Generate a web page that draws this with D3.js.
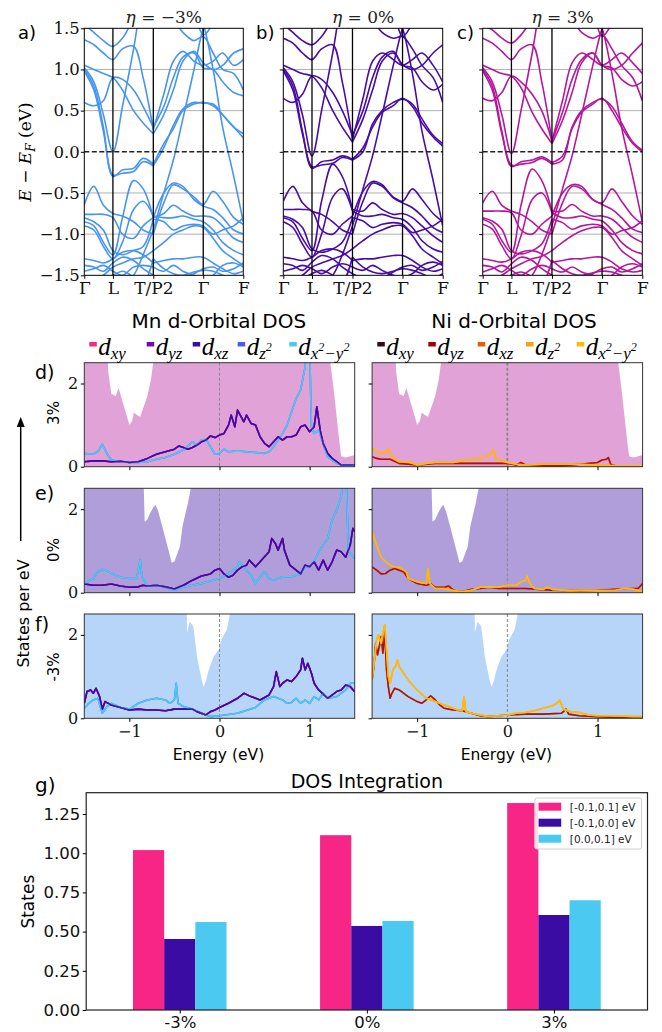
<!DOCTYPE html>
<html>
<head>
<meta charset="utf-8">
<script src="https://cdn.jsdelivr.net/npm/d3@7"></script>
<style>body{margin:0;background:#fff}</style>
</head>
<body>
<script>
// ---------- band structure data (fraction along k-path, E - E_F in eV) ----------
const kPts = [0, 0.06, 0.12, 0.18, 0.24, 0.31, 0.37, 0.434, 0.50, 0.56, 0.62, 0.69, 0.748, 0.81, 0.87, 0.94, 1.0];
const kTicks = [0, 0.18, 0.434, 0.748, 1.0];
const kLabels = ["Γ", "L", "T/P2", "Γ", "F"];

// eta = -3%
const bandsM3 = [
  [1.02, 0.85, 0.45, 0.0, 0.55, 1.25, 1.9, 2.2, 2.2, 2.1, 1.9, 1.7, 1.42, 1.55, 1.7, 1.8, 1.9],
  [1.0, 0.8, 0.3, -0.3, -0.22, -0.2, -0.08, -0.15, 0.1, 0.28, 0.5, 0.58, 0.6, 0.56, 0.45, 0.3, 0.22],
  [0.98, 0.75, 0.25, -0.28, -0.26, -0.24, -0.12, -0.17, 0.05, 0.32, 0.52, 0.6, 0.59, 0.58, 0.45, 0.3, 0.17],
  [0.6, 0.56, 0.62, 0.9, 0.88, 0.75, 0.55, 0.3, 0.55, 0.9, 1.15, 1.2, 1.02, 1.0, 0.85, 0.72, 0.68],
  [1.36, 1.3, 1.2, 1.12, 1.25, 1.28, 0.9, 0.27, 0.7, 1.1, 1.22, 1.1, 1.05, 1.1, 1.2, 1.05, 1.12],
  [1.05, 1.0, 0.95, 0.9, 0.75, 0.5, 0.35, 0.22, 0.45, 0.75, 1.1, 1.22, 1.08, 1.0, 1.05, 1.2, 1.25],
  [1.55, 1.45, 1.35, 1.28, 1.38, 1.6, 1.7, 1.8, 1.7, 1.6, 1.45, 1.35, 1.4, 1.2, 1.0, 0.95, 0.75],
  [-2.0, -1.9, -1.8, -1.7, -1.6, -1.5, -1.25, -0.95, -0.5, -0.1, 0.4, 1.0, 1.5, 1.8, 2.0, 2.0, 2.0],
  [2.0, 2.0, 2.0, 1.9, 1.8, 1.7, 1.75, 1.85, 1.9, 1.9, 1.85, 1.8, 1.55, 1.0, 0.3, -0.3, -0.85],
  [-0.64, -0.42, -0.65, -0.75, -0.78, -0.85, -0.95, -1.0, -0.62, -0.4, -0.45, -0.55, -0.64, -0.48, -0.6, -0.8, -0.88],
  [-0.76, -0.76, -0.76, -0.8, -1.0, -1.05, -0.9, -0.8, -0.5, -0.38, -0.42, -0.58, -0.66, -0.7, -0.8, -0.95, -1.0],
  [-0.85, -0.9, -1.1, -1.25, -0.8, -0.35, -0.45, -0.8, -0.75, -0.65, -0.72, -0.78, -0.78, -0.8, -0.9, -1.05, -1.1],
  [-0.9, -0.95, -1.15, -1.3, -1.1, -0.7, -0.6, -0.78, -0.8, -0.8, -0.78, -0.82, -0.85, -0.95, -1.1, -1.2, -1.25],
  [-0.8, -0.85, -0.95, -1.2, -1.25, -1.2, -1.15, -0.82, -0.85, -0.95, -0.9, -0.88, -0.9, -1.0, -0.95, -0.9, -0.8],
  [-1.3, -1.32, -1.35, -1.3, -1.22, -1.2, -1.25, -1.35, -1.32, -1.3, -1.3, -1.28, -1.28, -1.35, -1.42, -1.48, -1.45],
  [-1.45, -1.42, -1.38, -1.45, -1.5, -1.4, -1.38, -1.4, -1.45, -1.38, -1.45, -1.5, -1.55, -1.5, -1.38, -1.35, -1.4],
  [-1.6, -1.55, -1.5, -1.4, -1.35, -1.3, -1.28, -1.2, -1.1, -1.0, -0.95, -0.9, -0.92, -1.05, -1.2, -1.3, -1.38],
  [-1.38, -1.4, -1.45, -1.35, -1.28, -1.32, -1.42, -1.5, -1.55, -1.6, -1.55, -1.48, -1.42, -1.4, -1.45, -1.42, -1.35],
  [-1.7, -1.65, -1.55, -1.5, -1.45, -1.52, -1.6, -1.3, -1.42, -1.48, -1.5, -1.46, -1.44, -1.45, -1.5, -1.55, -1.5]
];

// eta = 0%
const bandsZero = [
  [1.02, 0.85, 0.45, -0.05, 0.5, 1.2, 1.85, 2.2, 2.2, 2.1, 1.9, 1.7, 1.4, 1.55, 1.7, 1.8, 1.9],
  [1.0, 0.8, 0.25, -0.2, -0.12, -0.1, -0.05, -0.09, 0.05, 0.3, 0.48, 0.56, 0.65, 0.55, 0.35, 0.18, 0.07],
  [0.98, 0.75, 0.22, -0.18, -0.16, -0.14, -0.07, -0.1, 0.0, 0.34, 0.5, 0.6, 0.64, 0.58, 0.4, 0.2, 0.1],
  [0.65, 0.6, 0.7, 0.92, 0.88, 0.72, 0.5, 0.2, 0.5, 0.9, 1.15, 1.22, 1.05, 1.02, 0.85, 0.75, 0.82],
  [1.38, 1.32, 1.2, 1.12, 1.25, 1.3, 0.85, 0.15, 0.65, 1.1, 1.2, 1.12, 1.05, 1.12, 1.2, 1.05, 0.85],
  [1.05, 1.0, 0.95, 0.92, 0.78, 0.5, 0.3, 0.12, 0.4, 0.75, 1.1, 1.2, 1.06, 1.0, 1.05, 1.2, 1.3],
  [1.55, 1.45, 1.35, 1.3, 1.4, 1.6, 1.7, 1.8, 1.7, 1.6, 1.45, 1.38, 1.4, 1.25, 1.05, 0.9, 0.6],
  [-2.0, -1.9, -1.8, -1.7, -1.6, -1.5, -1.25, -0.9, -0.45, -0.05, 0.45, 1.05, 1.5, 1.8, 2.0, 2.0, 2.0],
  [2.0, 2.0, 2.0, 1.9, 1.8, 1.7, 1.75, 1.85, 1.9, 1.9, 1.85, 1.75, 1.5, 0.95, 0.25, -0.35, -0.9],
  [-0.6, -0.42, -0.62, -0.72, -0.76, -0.85, -0.95, -1.0, -0.6, -0.38, -0.42, -0.55, -0.6, -0.45, -0.58, -0.75, -0.85],
  [-0.7, -0.7, -0.7, -0.72, -0.95, -1.0, -0.88, -0.78, -0.48, -0.36, -0.4, -0.56, -0.62, -0.68, -0.78, -0.92, -0.98],
  [-0.8, -0.85, -1.05, -1.2, -0.6, -0.15, -0.3, -0.7, -0.72, -0.62, -0.7, -0.76, -0.75, -0.8, -0.9, -1.02, -1.1],
  [-0.85, -0.92, -1.12, -1.28, -1.0, -0.55, -0.45, -0.72, -0.78, -0.78, -0.76, -0.8, -0.82, -0.92, -1.08, -1.18, -1.22],
  [-0.78, -0.82, -0.92, -1.18, -1.22, -1.18, -1.1, -0.8, -0.84, -0.92, -0.88, -0.86, -0.88, -0.98, -0.95, -0.9, -0.82],
  [-1.28, -1.3, -1.32, -1.28, -1.2, -1.18, -1.22, -1.32, -1.3, -1.3, -1.28, -1.26, -1.26, -1.32, -1.4, -1.45, -1.42],
  [-1.45, -1.42, -1.38, -1.42, -1.48, -1.4, -1.36, -1.4, -1.44, -1.38, -1.44, -1.5, -1.52, -1.48, -1.38, -1.34, -1.38],
  [-1.6, -1.55, -1.5, -1.4, -1.35, -1.3, -1.26, -1.18, -1.08, -1.0, -0.95, -0.9, -0.9, -1.02, -1.18, -1.28, -1.36],
  [-1.36, -1.38, -1.44, -1.34, -1.26, -1.3, -1.4, -1.48, -1.54, -1.58, -1.54, -1.46, -1.4, -1.38, -1.44, -1.4, -1.33],
  [-1.7, -1.64, -1.55, -1.48, -1.44, -1.5, -1.58, -1.28, -1.4, -1.46, -1.48, -1.45, -1.42, -1.44, -1.48, -1.53, -1.48]
];

// eta = 3%
const bandsP3 = [
  [1.02, 0.85, 0.45, -0.02, 0.5, 1.2, 1.85, 2.2, 2.2, 2.1, 1.9, 1.7, 1.4, 1.55, 1.7, 1.8, 1.9],
  [1.0, 0.8, 0.25, -0.18, -0.12, -0.1, -0.06, -0.13, -0.05, 0.28, 0.48, 0.58, 0.65, 0.5, 0.3, 0.1, 0.0],
  [0.98, 0.75, 0.22, -0.16, -0.15, -0.13, -0.08, -0.15, -0.1, 0.3, 0.5, 0.6, 0.64, 0.55, 0.35, 0.12, 0.02],
  [0.65, 0.62, 0.72, 0.92, 0.85, 0.7, 0.5, 0.13, 0.48, 0.88, 1.12, 1.2, 1.05, 1.02, 0.88, 0.8, 0.85],
  [1.38, 1.32, 1.22, 1.12, 1.25, 1.3, 0.85, 0.13, 0.62, 1.08, 1.2, 1.12, 1.05, 1.12, 1.2, 1.08, 0.95],
  [1.05, 1.0, 0.95, 0.92, 0.78, 0.48, 0.28, 0.1, 0.38, 0.72, 1.08, 1.2, 1.05, 1.0, 1.05, 1.2, 1.32],
  [1.55, 1.48, 1.38, 1.32, 1.42, 1.6, 1.7, 1.8, 1.7, 1.6, 1.45, 1.38, 1.42, 1.25, 1.05, 0.9, 0.62],
  [-2.0, -1.9, -1.8, -1.7, -1.6, -1.5, -1.25, -0.9, -0.45, -0.05, 0.45, 1.05, 1.5, 1.8, 2.0, 2.0, 2.0],
  [2.0, 2.0, 2.0, 1.9, 1.8, 1.7, 1.75, 1.85, 1.9, 1.9, 1.85, 1.75, 1.5, 0.95, 0.3, -0.3, -0.85],
  [-0.62, -0.48, -0.65, -0.72, -0.76, -0.85, -0.95, -1.0, -0.62, -0.42, -0.45, -0.58, -0.62, -0.45, -0.6, -0.78, -0.88],
  [-0.72, -0.72, -0.72, -0.74, -0.95, -1.0, -0.88, -0.78, -0.5, -0.4, -0.42, -0.58, -0.64, -0.7, -0.8, -0.94, -0.98],
  [-0.82, -0.88, -1.08, -1.22, -0.65, -0.21, -0.35, -0.72, -0.72, -0.64, -0.72, -0.78, -0.78, -0.82, -0.92, -1.04, -1.1],
  [-0.88, -0.94, -1.14, -1.3, -1.02, -0.58, -0.5, -0.74, -0.8, -0.8, -0.78, -0.82, -0.84, -0.95, -1.1, -1.2, -1.24],
  [-0.8, -0.84, -0.94, -1.2, -1.24, -1.2, -1.12, -0.82, -0.86, -0.94, -0.9, -0.88, -0.9, -1.0, -0.96, -0.92, -0.84],
  [-1.3, -1.32, -1.34, -1.3, -1.22, -1.2, -1.24, -1.34, -1.32, -1.3, -1.3, -1.28, -1.28, -1.34, -1.42, -1.46, -1.44],
  [-1.46, -1.42, -1.38, -1.44, -1.5, -1.42, -1.38, -1.42, -1.46, -1.4, -1.46, -1.5, -1.54, -1.5, -1.4, -1.36, -1.4],
  [-1.6, -1.56, -1.5, -1.42, -1.36, -1.3, -1.27, -1.2, -1.1, -1.02, -0.96, -0.92, -0.92, -1.04, -1.2, -1.3, -1.38],
  [-1.38, -1.4, -1.46, -1.36, -1.28, -1.32, -1.42, -1.5, -1.55, -1.6, -1.56, -1.48, -1.42, -1.4, -1.46, -1.42, -1.36],
  [-1.72, -1.66, -1.56, -1.5, -1.46, -1.52, -1.6, -1.32, -1.42, -1.48, -1.5, -1.47, -1.45, -1.46, -1.5, -1.55, -1.5]
];

// ---------- DOS data ([energy eV, states/eV]) ----------
// total DOS background (values above 2.5 are off the panel)
const totP3 = [[-1.5,3],[-1.24,3],[-1.235,2.3],[-1.2,1.75],[-1.15,1.7],[-1.12,1.9],[-1.08,1.6],[-1.04,1.3],[-1.0,1.0],[-0.97,1.1],[-0.95,1.3],[-0.92,1.25],[-0.88,1.2],[-0.84,1.45],[-0.8,1.7],[-0.76,2.1],[-0.73,2.6],[-0.7,3],[1.2,3],[1.23,2.5],[1.27,1.8],[1.3,1.2],[1.33,0.6],[1.35,0.25],[1.4,0.22],[1.5,0.28]];
const totZero = [[-1.5,3],[-0.85,3],[-0.84,2.5],[-0.83,1.7],[-0.8,1.75],[-0.77,1.9],[-0.73,2.06],[-0.71,2.1],[-0.68,1.95],[-0.63,1.55],[-0.57,1.05],[-0.53,0.72],[-0.5,0.75],[-0.44,1.1],[-0.41,1.6],[-0.35,2.15],[-0.31,2.6],[-0.3,3],[1.5,3]];
const totM3 = [[-1.5,3],[-0.365,3],[-0.36,2.05],[-0.33,2.32],[-0.29,2.2],[-0.25,1.48],[-0.2,0.95],[-0.175,0.75],[-0.15,0.9],[-0.12,1.16],[-0.065,1.48],[-0.01,1.64],[0.02,1.88],[0.08,2.12],[0.11,2.44],[0.15,3],[1.5,3]];

// Mn: dyz/dxz (overlapping) and dz2/dx2-y2 (overlapping)
const mnXZ_P3 = [[-1.5,0.12],[-1.4,0.14],[-1.3,0.14],[-1.2,0.12],[-1.1,0.13],[-1.0,0.1],[-0.9,0.12],[-0.8,0.2],[-0.7,0.3],[-0.6,0.36],[-0.5,0.42],[-0.45,0.5],[-0.4,0.46],[-0.35,0.42],[-0.3,0.46],[-0.25,0.52],[-0.2,0.6],[-0.15,0.64],[-0.1,0.74],[-0.05,0.7],[0,0.76],[0.05,0.8],[0.1,1.0],[0.13,1.24],[0.17,0.96],[0.2,1.36],[0.23,1.24],[0.27,1.08],[0.3,1.24],[0.35,1.04],[0.4,1.0],[0.45,0.72],[0.5,0.56],[0.55,0.48],[0.6,0.6],[0.65,0.72],[0.7,0.64],[0.75,0.72],[0.8,0.72],[0.85,0.76],[0.9,0.96],[0.95,1.0],[1.0,0.84],[1.05,0.96],[1.08,1.44],[1.12,0.84],[1.15,0.56],[1.2,0.32],[1.25,0.2],[1.3,0.12],[1.35,0.04],[1.5,0.04]];
const mnX2_P3 = [[-1.5,0.32],[-1.4,0.3],[-1.35,0.36],[-1.3,0.54],[-1.25,0.32],[-1.2,0.16],[-1.1,0.12],[-1.0,0.1],[-0.9,0.1],[-0.8,0.12],[-0.7,0.18],[-0.6,0.22],[-0.5,0.3],[-0.4,0.4],[-0.35,0.5],[-0.3,0.6],[-0.25,0.52],[-0.2,0.64],[-0.15,0.66],[-0.1,0.48],[-0.05,0.3],[0,0.32],[0.05,0.42],[0.1,0.36],[0.2,0.38],[0.3,0.36],[0.4,0.34],[0.5,0.32],[0.55,0.36],[0.6,0.48],[0.65,0.64],[0.7,0.8],[0.75,1.0],[0.8,1.32],[0.85,1.64],[0.9,1.84],[0.95,2.4],[0.97,3.0],[1.0,2.9],[1.02,0.96],[1.05,0.8],[1.1,0.88],[1.15,0.56],[1.2,0.24],[1.25,0.16],[1.3,0.08],[1.35,0.04],[1.5,0.04]];
const mnXZ_Zero = [[-1.5,0.21],[-1.4,0.18],[-1.3,0.18],[-1.2,0.21],[-1.1,0.16],[-1.0,0.13],[-0.9,0.14],[-0.85,0.18],[-0.8,0.16],[-0.7,0.18],[-0.6,0.14],[-0.5,0.09],[-0.4,0.18],[-0.3,0.3],[-0.2,0.4],[-0.1,0.45],[-0.05,0.54],[0,0.58],[0.05,0.45],[0.1,0.37],[0.15,0.42],[0.2,0.54],[0.25,0.62],[0.3,0.66],[0.33,0.78],[0.4,0.62],[0.45,0.74],[0.5,0.86],[0.55,0.98],[0.58,1.3],[0.62,1.18],[0.65,1.02],[0.7,1.3],[0.72,1.02],[0.78,0.66],[0.85,0.54],[0.9,0.45],[0.95,0.66],[1.0,0.62],[1.05,0.74],[1.1,0.54],[1.15,0.78],[1.2,0.54],[1.25,0.74],[1.3,1.02],[1.35,0.98],[1.4,0.85],[1.45,1.14],[1.48,1.54],[1.5,1.46]];
const mnX2_Zero = [[-1.5,0.22],[-1.4,0.34],[-1.35,0.5],[-1.3,0.56],[-1.25,0.52],[-1.2,0.46],[-1.1,0.37],[-1.0,0.34],[-0.92,0.34],[-0.88,0.78],[-0.86,0.38],[-0.8,0.16],[-0.7,0.18],[-0.6,0.13],[-0.5,0.06],[-0.4,0.14],[-0.3,0.18],[-0.2,0.22],[-0.1,0.28],[0,0.34],[0.1,0.46],[0.2,0.62],[0.22,0.74],[0.3,0.54],[0.35,0.42],[0.4,0.22],[0.45,0.38],[0.5,0.5],[0.55,0.34],[0.6,0.3],[0.7,0.38],[0.8,0.38],[0.9,0.46],[0.95,0.62],[1.0,0.62],[1.05,0.74],[1.1,0.98],[1.15,1.14],[1.2,1.3],[1.25,1.74],[1.3,1.98],[1.35,2.3],[1.37,2.7],[1.39,2.8],[1.41,2.46],[1.43,1.02],[1.45,0.94],[1.5,0.82]];
const mnXZ_M3 = [[-1.5,0.36],[-1.47,0.64],[-1.43,0.68],[-1.4,0.6],[-1.37,0.72],[-1.33,0.52],[-1.3,0.22],[-1.27,0.4],[-1.2,0.32],[-1.1,0.26],[-1.0,0.2],[-0.9,0.22],[-0.8,0.2],[-0.7,0.2],[-0.6,0.18],[-0.5,0.22],[-0.4,0.22],[-0.3,0.22],[-0.25,0.16],[-0.15,0.08],[-0.1,0.16],[-0.05,0.2],[0,0.26],[0.1,0.36],[0.2,0.48],[0.27,0.6],[0.35,0.52],[0.45,0.44],[0.55,0.56],[0.6,0.76],[0.63,1.12],[0.67,0.76],[0.7,0.84],[0.75,0.92],[0.8,0.88],[0.85,1.0],[0.9,1.16],[0.92,1.44],[0.95,1.16],[0.98,1.32],[1.02,1.08],[1.05,0.84],[1.1,0.68],[1.2,0.48],[1.3,0.64],[1.35,0.68],[1.4,0.8],[1.45,0.76],[1.5,0.64]];
const mnX2_M3 = [[-1.5,0.24],[-1.45,0.36],[-1.4,0.44],[-1.35,0.48],[-1.3,0.12],[-1.25,0.28],[-1.2,0.36],[-1.1,0.26],[-1.0,0.22],[-0.9,0.36],[-0.8,0.44],[-0.7,0.48],[-0.6,0.44],[-0.55,0.36],[-0.5,0.44],[-0.48,0.84],[-0.46,0.36],[-0.4,0.28],[-0.3,0.22],[-0.2,0.12],[-0.1,0.04],[0,0.06],[0.2,0.12],[0.4,0.26],[0.5,0.44],[0.6,0.52],[0.7,0.44],[0.75,0.36],[0.8,0.38],[0.85,0.48],[0.9,0.36],[0.95,0.44],[1.0,0.36],[1.05,0.52],[1.1,0.44],[1.15,0.6],[1.2,0.48],[1.3,0.52],[1.4,0.68],[1.45,0.84],[1.5,0.84]];

// Ni: dyz/dxz (overlapping) and dz2/dx2-y2 (overlapping)
const niYZ_P3 = [[-1.5,0.24],[-1.45,0.2],[-1.4,0.18],[-1.3,0.18],[-1.2,0.08],[-1.1,0.06],[-1.0,0.04],[-0.9,0.06],[-0.8,0.08],[-0.7,0.08],[-0.5,0.08],[-0.3,0.08],[-0.1,0.08],[0,0.08],[0.1,0.04],[0.15,0.1],[0.2,0.04],[0.4,0.02],[0.6,0.02],[0.8,0.06],[1.0,0.1],[1.05,0.16],[1.1,0.18],[1.12,0.22],[1.15,0.04],[1.2,0.02],[1.5,0.02]];
const niX2_P3 = [[-1.5,0.44],[-1.45,0.36],[-1.4,0.32],[-1.35,0.34],[-1.32,0.44],[-1.3,0.32],[-1.25,0.18],[-1.2,0.12],[-1.1,0.12],[-1.0,0.04],[-0.9,0.08],[-0.8,0.1],[-0.6,0.1],[-0.45,0.16],[-0.4,0.18],[-0.3,0.2],[-0.2,0.28],[-0.15,0.4],[-0.13,0.2],[-0.1,0.16],[0,0.1],[0.1,0.06],[0.2,0.04],[0.4,0.06],[0.6,0.06],[0.8,0.06],[1.0,0.04],[1.2,0.02],[1.5,0.02]];
const niYZ_Zero = [[-1.5,0.62],[-1.45,0.54],[-1.4,0.45],[-1.35,0.46],[-1.3,0.54],[-1.25,0.58],[-1.2,0.54],[-1.15,0.5],[-1.1,0.34],[-1.0,0.22],[-0.9,0.18],[-0.85,0.21],[-0.8,0.13],[-0.7,0.13],[-0.65,0.16],[-0.6,0.06],[-0.5,0.02],[-0.4,0.08],[-0.3,0.1],[-0.2,0.13],[-0.1,0.1],[0,0.1],[0.2,0.1],[0.35,0.08],[0.5,0.06],[0.8,0.05],[1.0,0.06],[1.2,0.08],[1.4,0.1],[1.45,0.1],[1.5,0.22]];
const niX2_Zero = [[-1.5,1.46],[-1.47,1.26],[-1.43,1.02],[-1.4,0.86],[-1.35,0.74],[-1.3,0.66],[-1.25,0.62],[-1.2,0.61],[-1.15,0.54],[-1.12,0.5],[-1.1,0.34],[-1.0,0.26],[-0.9,0.22],[-0.88,0.58],[-0.86,0.22],[-0.8,0.1],[-0.7,0.1],[-0.6,0.05],[-0.5,0.02],[-0.4,0.06],[-0.3,0.13],[-0.2,0.14],[-0.1,0.13],[0,0.18],[0.1,0.18],[0.15,0.26],[0.2,0.3],[0.22,0.4],[0.25,0.22],[0.3,0.1],[0.4,0.08],[0.45,0.14],[0.5,0.08],[0.7,0.05],[0.9,0.06],[1.0,0.05],[1.2,0.06],[1.3,0.1],[1.4,0.08],[1.5,0.02]];
const niYZ_M3 = [[-1.5,0.92],[-1.48,1.24],[-1.46,1.8],[-1.44,1.52],[-1.42,1.72],[-1.4,1.96],[-1.38,1.56],[-1.36,2.08],[-1.34,1.16],[-1.32,0.76],[-1.3,0.48],[-1.28,0.6],[-1.25,0.72],[-1.2,0.68],[-1.1,0.52],[-1.0,0.4],[-0.95,0.36],[-0.9,0.44],[-0.85,0.54],[-0.8,0.44],[-0.75,0.32],[-0.7,0.24],[-0.6,0.2],[-0.5,0.18],[-0.4,0.12],[-0.3,0.06],[-0.2,0.04],[-0.1,0.06],[0,0.08],[0.2,0.1],[0.4,0.1],[0.6,0.12],[0.65,0.22],[0.68,0.1],[0.8,0.06],[1.0,0.04],[1.2,0.02],[1.5,0.02]];
const niX2_M3 = [[-1.5,0.92],[-1.47,1.48],[-1.45,1.88],[-1.43,2.0],[-1.4,1.8],[-1.38,2.04],[-1.36,2.24],[-1.34,1.64],[-1.32,1.0],[-1.3,0.84],[-1.27,1.16],[-1.24,1.24],[-1.22,1.4],[-1.2,1.24],[-1.15,1.08],[-1.1,0.92],[-1.0,0.68],[-0.9,0.48],[-0.8,0.4],[-0.7,0.32],[-0.6,0.24],[-0.55,0.2],[-0.5,0.18],[-0.48,0.52],[-0.46,0.16],[-0.4,0.12],[-0.3,0.08],[-0.2,0.04],[-0.1,0.06],[0,0.08],[0.1,0.12],[0.2,0.14],[0.3,0.18],[0.4,0.24],[0.5,0.3],[0.55,0.36],[0.58,0.44],[0.62,0.22],[0.7,0.16],[0.8,0.14],[0.9,0.08],[1.0,0.06],[1.2,0.06],[1.4,0.04],[1.5,0.04]];

// ---------- DOS integration bars ----------
const strainLabels = ["-3%", "0%", "3%"];
const windowLabels = ["[-0.1,0.1] eV", "[-0.1,0.0] eV", "[0.0,0.1] eV"];
const intFull = [1.02, 1.115, 1.32];
const intBelow = [0.453, 0.536, 0.606];
const intAbove = [0.561, 0.568, 0.70];

const mnColors = ["#f72585", "#7209b7", "#3a0ca3", "#4361ee", "#4cc9f0"];
const niColors = ["#370617", "#9d0208", "#e85d04", "#faa307", "#ffba08"];
const barColors = ["#f72585", "#3a0ca3", "#4cc9f0"];

const SERIF = "'DejaVu Serif', serif";
const SANS = "'DejaVu Sans', sans-serif";
const MATH = "'Liberation Serif', serif";

const svg = d3.select("body").append("svg").attr("width", 662).attr("height", 1032);
svg.append("rect").attr("width", 662).attr("height", 1032).attr("fill", "#fff");

// ================= band structures =================
const bandPanels = [
  {id: "a", x0: 84.3, x1: 243.3, bands: bandsM3, color: "#4895ef", eta: "−3%", label: "a)", lx: 18},
  {id: "b", x0: 283.3, x1: 442.7, bands: bandsZero, color: "#480ca8", eta: "0%", label: "b)", lx: 256},
  {id: "c", x0: 482.7, x1: 642.3, bands: bandsP3, color: "#b5179e", eta: "3%", label: "c)", lx: 457}
];
const bTop = 28.3, bBot = 275.3;

bandPanels.forEach((p, pi) => {
  const x = d3.scaleLinear().domain([0, 1]).range([p.x0, p.x1]);
  const y = d3.scaleLinear().domain([-1.5, 1.5]).range([bBot, bTop]);
  const g = svg.append("g");
  const cid = "clip-" + p.id;
  svg.append("clipPath").attr("id", cid).append("rect")
    .attr("x", p.x0).attr("y", bTop).attr("width", p.x1 - p.x0).attr("height", bBot - bTop);

  g.selectAll(".grid").data([-1, -0.5, 0.5, 1]).join("line")
    .attr("x1", p.x0).attr("x2", p.x1).attr("y1", d => y(d)).attr("y2", d => y(d))
    .attr("stroke", "#b0b0b0").attr("stroke-width", 1);

  const line = d3.line().x(d => x(d[0])).y(d => y(d[1])).curve(d3.curveCatmullRom.alpha(0.5));
  const bg = g.append("g").attr("clip-path", `url(#${cid})`);
  p.bands.forEach(b => {
    const pts = kPts.map((k, i) => [k, b[i]]);
    // path is broken at T/P2, so each half is drawn on its own
    [pts.slice(0, 8), pts.slice(7)].forEach(seg => {
      bg.append("path").attr("d", line(seg)).attr("fill", "none")
        .attr("stroke", p.color).attr("stroke-width", 1.6);
    });
  });

  g.selectAll(".kl").data(kTicks.slice(1, 4)).join("line")
    .attr("x1", d => x(d)).attr("x2", d => x(d)).attr("y1", bTop).attr("y2", bBot)
    .attr("stroke", "#000").attr("stroke-width", 1.3);
  g.append("line").attr("x1", p.x0).attr("x2", p.x1).attr("y1", y(0)).attr("y2", y(0))
    .attr("stroke", "#222").attr("stroke-width", 1.5).attr("stroke-dasharray", "5,2.5");
  g.append("rect").attr("x", p.x0).attr("y", bTop).attr("width", p.x1 - p.x0).attr("height", bBot - bTop)
    .attr("fill", "none").attr("stroke", "#000").attr("stroke-width", 1);

  const ya = g.append("g").attr("transform", `translate(${p.x0},0)`)
    .call(d3.axisLeft(y).tickValues([-1.5, -1, -0.5, 0, 0.5, 1, 1.5]).tickSize(3.5)
      .tickFormat(d => pi === 0 ? d3.format(".1f")(d).replace("-", "−") : ""));
  ya.select(".domain").remove();
  ya.selectAll("text").attr("font-family", SERIF).attr("font-size", 16.5).attr("fill", "#111").attr("x", -4.5);

  const xa = g.append("g").attr("transform", `translate(0,${bBot})`)
    .call(d3.axisBottom(x).tickValues(kTicks).tickSize(3.5).tickFormat((d, i) => kLabels[i]));
  xa.select(".domain").remove();
  xa.selectAll("text").attr("font-family", SERIF).attr("font-size", 17).attr("fill", "#111").attr("y", 7);

  const t = svg.append("text").attr("x", (p.x0 + p.x1) / 2).attr("y", 22.7)
    .attr("text-anchor", "middle").attr("font-family", SERIF).attr("font-size", 17).attr("fill", "#222");
  t.append("tspan").attr("font-style", "italic").text("η");
  t.append("tspan").text(" = " + p.eta);

  svg.append("text").attr("x", p.lx).attr("y", 39).attr("font-family", SANS).attr("font-size", 18).text(p.label);
});

// y label E - E_F (eV)
{
  const t = svg.append("text").attr("transform", "translate(31,152) rotate(-90)")
    .attr("text-anchor", "middle").attr("font-family", SERIF).attr("font-size", 17);
  t.append("tspan").attr("font-style", "italic").text("E");
  t.append("tspan").text(" − ");
  t.append("tspan").attr("font-style", "italic").text("E");
  t.append("tspan").attr("font-style", "italic").attr("font-size", 12).attr("dy", 4).text("F");
  t.append("tspan").attr("dy", -4).text(" (eV)");
}

// ================= DOS panels =================
const dosCols = [
  {name: "Mn", x0: 84.3, x1: 354.7, colors: mnColors, sw: [89.3, 146.7, 192.7, 237.7, 289.3], tx: 218.8},
  {name: "Ni", x0: 372.1, x1: 642.6, colors: niColors, sw: [377.3, 428.3, 477.7, 526, 576.7], tx: 514}
];
const dosRows = [
  {y0: 362.7, y1: 466.7, tot: totP3, fill: "#b5179e", mn: [mnXZ_P3, mnX2_P3], ni: [niYZ_P3, niX2_P3], tag: "3%", label: "d)", ly: 379, tagY: 413},
  {y0: 488.3, y1: 592.7, tot: totZero, fill: "#3a0ca3", mn: [mnXZ_Zero, mnX2_Zero], ni: [niYZ_Zero, niX2_Zero], tag: "0%", label: "e)", ly: 500, tagY: 550},
  {y0: 614, y1: 718.3, tot: totM3, fill: "#4895ef", mn: [mnXZ_M3, mnX2_M3], ni: [niYZ_M3, niX2_M3], tag: "-3%", label: "f)", ly: 631, tagY: 667}
];

dosRows.forEach((r, ri) => {
  dosCols.forEach((c, ci) => {
    const x = d3.scaleLinear().domain([-1.5, 1.5]).range([c.x0, c.x1]);
    const y = d3.scaleLinear().domain([0, 2.5]).range([r.y1, r.y0]);
    const cid = `dclip-${ri}-${ci}`;
    svg.append("clipPath").attr("id", cid).append("rect")
      .attr("x", c.x0).attr("y", r.y0).attr("width", c.x1 - c.x0).attr("height", r.y1 - r.y0);
    const g = svg.append("g");
    const inner = g.append("g").attr("clip-path", `url(#${cid})`);
    const area = d3.area().x(d => x(d[0])).y0(y(0)).y1(d => y(d[1]));
    inner.append("path").attr("d", area(r.tot)).attr("fill", r.fill).attr("fill-opacity", 0.4);
    inner.append("line").attr("x1", x(0)).attr("x2", x(0)).attr("y1", r.y0).attr("y2", r.y1)
      .attr("stroke", "#888").attr("stroke-width", (ri === 0 && ci === 1) ? 1.8 : 1)
      .attr("stroke-dasharray", "3,2");
    const line = d3.line().x(d => x(d[0])).y(d => y(d[1]));
    const series = ci === 0 ? r.mn : r.ni;
    // overlapping orbitals: series 0 -> dxy/dyz/dxz, series 1 -> dz2/dx2-y2
    const layers = ci === 0
      ? [[0, 0, 1], [0, 1, 1], [1, 3, 1], [1, 4, 1], [0, 2, 0.9]]
      : [[0, 2, 1], [0, 1, 0.8], [1, 3, 1], [1, 4, 1]];
    layers.forEach(([si, colI, op]) => {
      inner.append("path").attr("d", line(series[si])).attr("fill", "none")
        .attr("stroke", c.colors[colI]).attr("stroke-width", 1.6).attr("stroke-opacity", op)
        .attr("stroke-linejoin", "round");
    });
    g.append("rect").attr("x", c.x0).attr("y", r.y0).attr("width", c.x1 - c.x0).attr("height", r.y1 - r.y0)
      .attr("fill", "none").attr("stroke", "#333").attr("stroke-width", 1);

    const ya = g.append("g").attr("transform", `translate(${c.x0},0)`)
      .call(d3.axisLeft(y).tickValues([0, 2]).tickSize(3.5).tickFormat(d => ci === 0 ? d : ""));
    ya.select(".domain").remove();
    ya.selectAll("text").attr("font-family", SERIF).attr("font-size", 16).attr("fill", "#111").attr("x", -6);
    const xa = g.append("g").attr("transform", `translate(0,${r.y1})`)
      .call(d3.axisBottom(x).tickValues([-1, 0, 1]).tickSize(3.5)
        .tickFormat(d => ri === 2 ? String(d).replace("-", "−") : ""));
    xa.select(".domain").remove();
    xa.selectAll("text").attr("font-family", SERIF).attr("font-size", 16).attr("fill", "#111").attr("y", 7);

    if (ri === 2) {
      svg.append("text").attr("x", (c.x0 + c.x1) / 2 - 1).attr("y", 760).attr("text-anchor", "middle")
        .attr("font-family", SANS).attr("font-size", 15.5).text("Energy (eV)");
    }
  });
  svg.append("text").attr("transform", `translate(59,${r.tagY}) rotate(-90)`).attr("text-anchor", "middle")
    .attr("font-family", SANS).attr("font-size", 15).text(r.tag);
  svg.append("text").attr("x", 35).attr("y", r.ly).attr("font-family", SANS).attr("font-size", 19).text(r.label);
});

// titles and legends for DOS columns; each part: [text, baseline offset from main line, size]
const orbitals = [
  [["xy", 4, 17]], [["yz", 4, 17]], [["xz", 4, 17]],
  [["z", 4, 17], ["2", -4, 12]],
  [["x", 4, 17], ["2", -4, 12], ["−y", 4, 17], ["2", -4, 12]]
];
dosCols.forEach(c => {
  svg.append("text").attr("x", c.tx).attr("y", 327.7).attr("text-anchor", "middle")
    .attr("font-family", SANS).attr("font-size", 20).text(c.name + " d-Orbital DOS");
  orbitals.forEach((parts, i) => {
    svg.append("rect").attr("x", c.sw[i]).attr("y", 342).attr("width", 7.5).attr("height", 4.5).attr("fill", c.colors[i]);
    const t = svg.append("text").attr("x", c.sw[i] + 9).attr("y", 354.5)
      .attr("font-family", MATH).attr("font-style", "italic").attr("font-size", 25);
    t.append("tspan").text("d");
    let level = 0;
    parts.forEach(([s, off, size]) => {
      t.append("tspan").attr("font-size", size).attr("dy", off - level).text(s);
      level = off;
    });
  });
});

// States per eV with arrow
svg.append("line").attr("x1", 20.7).attr("x2", 20.7).attr("y1", 541).attr("y2", 425)
  .attr("stroke", "#000").attr("stroke-width", 1.5);
svg.append("path").attr("d", "M20.7,417 L16.7,427 L24.7,427 Z").attr("fill", "#000");
svg.append("text").attr("transform", "translate(29,613.5) rotate(-90)").attr("text-anchor", "middle")
  .attr("font-family", SANS).attr("font-size", 16).text("States per eV");

// ================= DOS integration bar chart =================
{
  const x0 = 86.2, x1 = 647.5, yT = 792.7, yB = 1010;
  const x = d3.scaleLinear().domain([-0.5, 2.5]).range([x0, x1]);
  const y = d3.scaleLinear().domain([0, 1.386]).range([yB, yT]);
  const w = 1 / 6;
  const groups = [intFull, intBelow, intAbove];
  const g = svg.append("g");
  groups.forEach((vals, j) => {
    g.selectAll(null).data(vals).join("rect")
      .attr("x", (d, i) => x(i + (j - 1.5) * w))
      .attr("width", x(w) - x(0))
      .attr("y", d => y(d)).attr("height", d => yB - y(d))
      .attr("fill", barColors[j]);
  });
  g.append("rect").attr("x", x0).attr("y", yT).attr("width", x1 - x0).attr("height", yB - yT)
    .attr("fill", "none").attr("stroke", "#222").attr("stroke-width", 1.2);
  const ya = g.append("g").attr("transform", `translate(${x0},0)`)
    .call(d3.axisLeft(y).tickValues([0, 0.25, 0.5, 0.75, 1.0, 1.25]).tickSize(3.5).tickFormat(d3.format(".2f")));
  ya.select(".domain").remove();
  ya.selectAll("text").attr("font-family", SANS).attr("font-size", 16.5).attr("fill", "#111").attr("x", -6);
  const xa = g.append("g").attr("transform", `translate(0,${yB})`)
    .call(d3.axisBottom(x).tickValues([0, 1, 2]).tickSize(3.5).tickFormat((d, i) => strainLabels[i]));
  xa.select(".domain").remove();
  xa.selectAll("text").attr("font-family", SANS).attr("font-size", 16.5).attr("fill", "#111").attr("y", 6);

  svg.append("text").attr("x", (x0 + x1) / 2).attr("y", 788).attr("text-anchor", "middle")
    .attr("font-family", SANS).attr("font-size", 19).text("DOS Integration");
  svg.append("text").attr("transform", "translate(34,901.7) rotate(-90)").attr("text-anchor", "middle")
    .attr("font-family", SANS).attr("font-size", 17).text("States");
  svg.append("text").attr("x", 35).attr("y", 792).attr("font-family", SANS).attr("font-size", 20).text("g)");

  const lg = svg.append("g");
  lg.append("rect").attr("x", 534.8).attr("y", 798).attr("width", 106.7).attr("height", 51)
    .attr("rx", 2).attr("fill", "#fff").attr("fill-opacity", 0.85).attr("stroke", "#d0d0d0");
  windowLabels.forEach((s, i) => {
    lg.append("rect").attr("x", 538.6).attr("y", 802.7 + i * 16).attr("width", 22.6).attr("height", 8).attr("fill", barColors[i]);
    lg.append("text").attr("x", 569.8).attr("y", 810.5 + i * 16).attr("font-family", SANS)
      .attr("font-size", 10.5).attr("fill", "#222").text(s);
  });
}
</script>
</body>
</html>
